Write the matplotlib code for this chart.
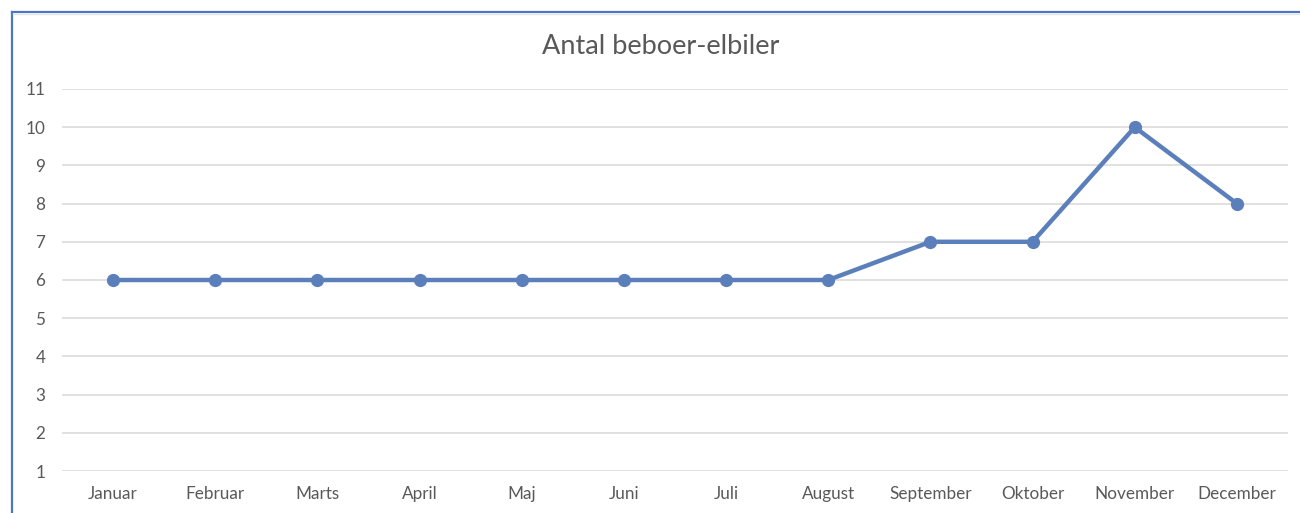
import matplotlib.pyplot as plt
from matplotlib.lines import Line2D

# data
months = ['Januar', 'Februar', 'Marts', 'April', 'Maj', 'Juni', 'Juli',
          'August', 'September', 'Oktober', 'November', 'December']
antal = [6, 6, 6, 6, 6, 6, 6, 6, 7, 7, 10, 8]
yticks = list(range(1, 12))

plt.rcParams['font.family'] = ['Lato', 'DejaVu Sans']

W, H = 1300, 513
fig = plt.figure(figsize=(W / 100, H / 100), dpi=100)
ax = fig.add_axes([62 / W, 42 / H, (1288 - 62) / W, (471 - 89) / H])

x = list(range(len(months)))
ax.plot(x, antal, color='#5b7fbb', linewidth=3.2, marker='o', markersize=8.5,
        solid_capstyle='round', zorder=3)

ax.set_xlim(-0.5, len(months) - 0.5)
ax.set_ylim(1, 11)
ax.set_yticks(yticks)
ax.set_xticks(x)
ax.set_xticklabels(months)
ax.grid(axis='y', color='#dedede', linewidth=1.3)
ax.set_axisbelow(True)
for s in ax.spines.values():
    s.set_visible(False)
ax.tick_params(axis='both', length=0, labelsize=12.3, labelcolor='#595959')
ax.tick_params(axis='x', pad=11)
ax.tick_params(axis='y', pad=12)

fig.text(661 / W, 1 - 47 / H, 'Antal beboer-elbiler', ha='center', va='center',
         fontsize=19.5, color='#595959')

# blue frame of the screenshot (left and top edges)
fig.add_artist(Line2D([11.5 / W, 11.5 / W], [0, 1 - 11.5 / H], color='#4a78c8',
                      linewidth=1.6, transform=fig.transFigure))
fig.add_artist(Line2D([11.5 / W, 1], [1 - 11.5 / H, 1 - 11.5 / H], color='#4a78c8',
                      linewidth=1.6, transform=fig.transFigure))
fig.add_artist(Line2D([13 / W, 1], [1 - 14 / H, 1 - 14 / H], color='#e6e6e6',
                      linewidth=1, transform=fig.transFigure))

fig.savefig('out.png', dpi=100)
